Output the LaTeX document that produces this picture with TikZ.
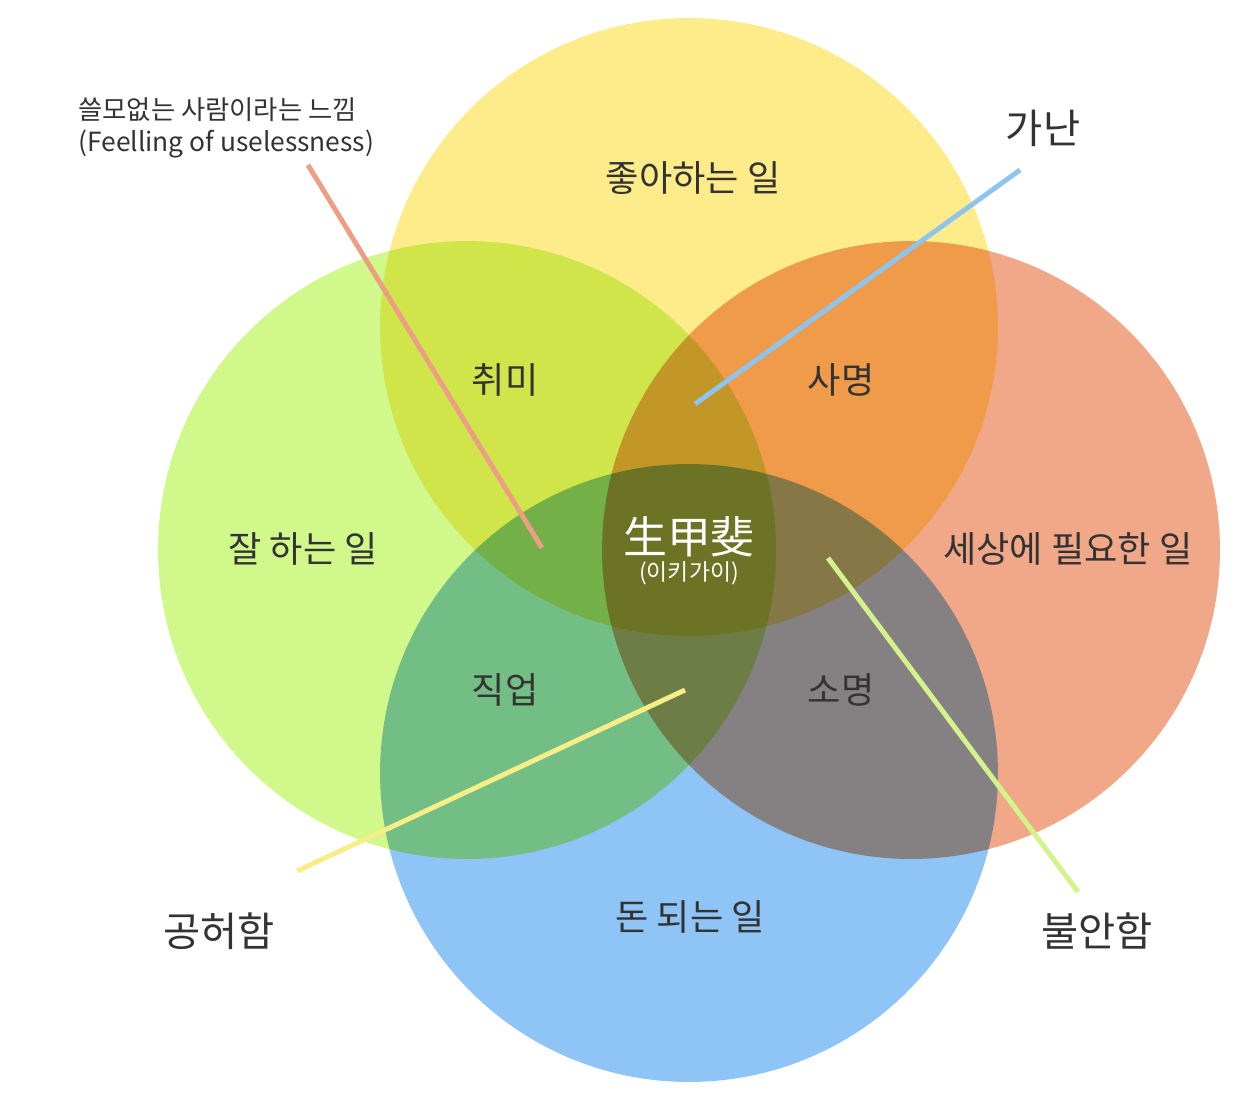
\documentclass[tikz,border=0pt]{standalone}
\usepackage{fontspec}
\usepackage{xcolor}
\usepackage{tikz}
\setmainfont{Noto Sans CJK KR}

\definecolor{likeyellow}{HTML}{FEEC8A}
\definecolor{goodgreen}{HTML}{D0F88A}
\definecolor{needorange}{HTML}{F0A888}
\definecolor{paidblue}{HTML}{8EC4F6}
\definecolor{salmonline}{HTML}{EE9E84}
\definecolor{yellowline}{HTML}{F8EE88}
\definecolor{greenline}{HTML}{D2F48A}
\definecolor{blueline}{HTML}{8EC4F0}
\definecolor{labelgray}{HTML}{333333}

\begin{document}
\begin{tikzpicture}[
			x=0.02cm, y=-0.02cm,
			% Define the style for the nodes
			every node/.style={text=labelgray, inner sep=0pt},
			circlelabel/.style={font=\fontsize{20.6}{22}\selectfont},
			outerlabel/.style={font=\fontsize{23}{25}\selectfont},
			pointer/.style={line width=2.8pt}
			]

			\useasboundingbox (0,0) rectangle (1260,1106);

			% the four circles, mixed like inks
			\begin{scope}[blend group=multiply]
				\fill[likeyellow] (689,327) circle [radius=6.18cm];
				\fill[goodgreen] (467,550) circle [radius=6.18cm];
				\fill[needorange] (911,550) circle [radius=6.18cm];
				\fill[paidblue] (689,773) circle [radius=6.18cm];
			\end{scope}

			\node (like) at (693,178) [circlelabel] {좋아하는 일};
			\node (good) at (303,549) [circlelabel] {잘 하는 일};
			\node (need) at (1068,549) [circlelabel] {세상에 필요한 일};
			\node (paid) at (690,917) [circlelabel] {돈 되는 일};

			\node (passion) at (505,380) [circlelabel] {취미};
			\node (mission) at (841,380) [circlelabel] {사명};
			\node (profession) at (505,690) [circlelabel] {직업};
			\node (vocation) at (841,690) [circlelabel] {소명};

			\node (ikigai) at (689,537) [text=white, font=\fontsize{25}{27}\selectfont] {生甲斐};
			\node (reading) at (689,573) [text=white, font=\fontsize{13}{15}\selectfont] {(이키가이)};

			\node (useless) at (78,128) [anchor=west, align=left, font=\fontsize{15}{18}\selectfont] {쓸모없는 사람이라는 느낌\\(Feelling of uselessness)};
			\node (poverty) at (1043,128) [outerlabel] {가난};
			\node (emptiness) at (219,931) [outerlabel] {공허함};
			\node (unease) at (1097,931) [outerlabel] {불안함};

			\coordinate (uselessend) at (308,165);
			\coordinate (uselesstip) at (542,548);
			\coordinate (povertyend) at (1020,170);
			\coordinate (povertytip) at (695,404);
			\coordinate (emptinessend) at (297,871);
			\coordinate (emptinesstip) at (685,690);
			\coordinate (uneaseend) at (1078,892);
			\coordinate (uneasetip) at (828,558);

			\draw[pointer, salmonline] (uselessend)--(uselesstip);
			\draw[pointer, blueline] (povertyend)--(povertytip);
			\draw[pointer, yellowline] (emptinessend)--(emptinesstip);
			\draw[pointer, greenline] (uneaseend)--(uneasetip);

		\end{tikzpicture}
\end{document}
